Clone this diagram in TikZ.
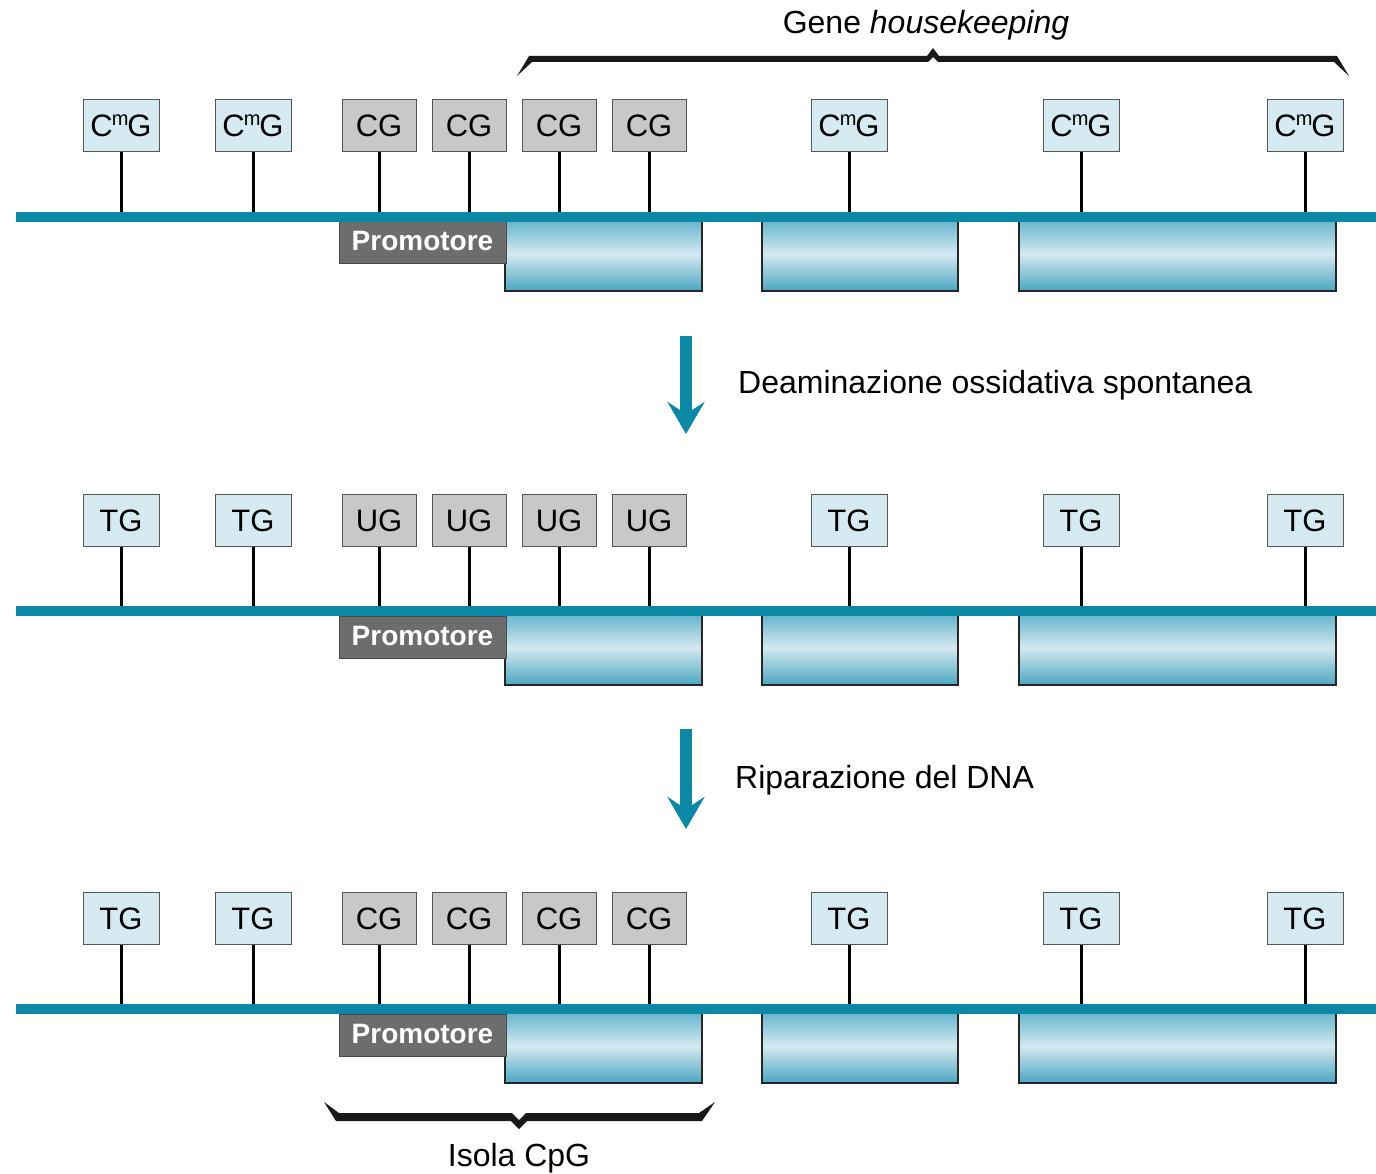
\documentclass[tikz,border=0pt]{standalone}
\usepackage{fontspec}
\setmainfont{Liberation Sans}
\usetikzlibrary{arrows.meta}
\definecolor{dnablue}{HTML}{0A88A6}
\definecolor{boxblue}{HTML}{D5EAF1}
\definecolor{boxgrey}{HTML}{C8C8C8}
\definecolor{boxline}{HTML}{555555}
\definecolor{promogrey}{HTML}{6D6D6D}
\definecolor{promoline}{HTML}{4A4A4A}
\definecolor{exonA}{HTML}{5AB0C9}
\definecolor{exonM}{HTML}{D3E9F0}
\definecolor{exonB}{HTML}{4BA6C1}
\tikzset{
 lbox/.style={draw=boxline, line width=1pt, fill=boxblue, minimum width=76pt, minimum height=52pt,
   inner sep=0pt, text height=22pt, text depth=0pt, font=\fontsize{31}{36}\selectfont},
 gbox/.style={lbox, fill=boxgrey, minimum width=74pt},
 stem/.style={line width=3pt, black},
 dna/.style={line width=10pt, dnablue},
 exon/.style={minimum height=74pt, inner sep=0pt, top color=exonA, bottom color=exonB, middle color=exonM},
 exonedge/.style={line width=2.5pt, black!85},
 promo/.style={draw=promoline, fill=promogrey, line width=1pt, minimum width=167pt, minimum height=42pt,
   inner sep=0pt, text=white, text height=20pt, text depth=4pt, font=\fontsize{28}{30}\selectfont\bfseries},
 flow/.style={line width=12pt, dnablue, -{Stealth[length=32pt,width=37pt,inset=12pt]}},
 lab/.style={font=\fontsize{32}{38}\selectfont, anchor=base west, inner sep=0pt},
 clab/.style={font=\fontsize{32}{38}\selectfont, anchor=base, inner sep=0pt},
 brace/.style={fill=black!90}
}
\newcommand\cmg{C\kern-1pt\raisebox{11pt}{\fontsize{20}{20}\selectfont m}\kern-1pt G}
\newcommand\dnarow[4]{%
 \begin{scope}[yshift=-#2pt]
  \coordinate (dnaL#1) at (16,217);
  \coordinate (dnaR#1) at (1376,217);
  \foreach \i/\x in {1/121,2/253,3/849,4/1081,5/1305} {
    \node[lbox] (o#1-\i) at (\x,126) {#3};
    \coordinate (os#1-\i) at (\x,214);
    \draw[stem] (o#1-\i) -- (os#1-\i);
  }
  \foreach \i/\x in {1/379,2/469,3/559,4/649} {
    \node[gbox] (g#1-\i) at (\x,126) {#4};
    \coordinate (gs#1-\i) at (\x,214);
    \draw[stem] (g#1-\i) -- (gs#1-\i);
  }
  \foreach \i/\x/\w in {1/603.5/197,2/860/196,3/1177.5/317} {
    \node[exon, minimum width=\w pt] (e#1-\i) at (\x,254) {};
    \draw[exonedge] (e#1-\i.north west) |- (e#1-\i.south east) -- (e#1-\i.north east);
  }
  \node[promo] (p#1) at (422.5,243) {Promotore};
  \draw[dna] (dnaL#1) -- (dnaR#1);
 \end{scope}}
\begin{document}
\begin{tikzpicture}[x=1pt,y=-1pt]
\useasboundingbox[fill=white] (0,0) rectangle (1376,1174);
\dnarow{1}{0}{\cmg}{CG}
\dnarow{2}{394}{TG}{UG}
\dnarow{3}{792}{TG}{CG}
% arrows
\coordinate (a1s) at (686,336);
\coordinate (a1e) at (686,434);
\draw[flow] (a1s) -- (a1e);
\node[lab] (t1) at (738,393) {Deaminazione ossidativa spontanea};
\coordinate (a2s) at (686,729);
\coordinate (a2e) at (686,829);
\draw[flow] (a2s) -- (a2e);
\node[lab] (t2) at (735,788) {Riparazione del DNA};
% top brace
\fill[brace] (517,76) -- (529,56) -- (927,56) -- (933,48) -- (939,56) -- (1337,56) -- (1349,76)
  -- (1334,62) -- (938,62) -- (933,57) -- (928,62) -- (532,62) -- cycle;
\node[clab] (gene) at (926,34) {Gene \textit{housekeeping}};
% bottom brace
\fill[brace] (324,1102) -- (339,1113) -- (512,1113) -- (519,1120) -- (526,1113) -- (699,1113) -- (715,1102)
  -- (702,1121) -- (527,1121) -- (519,1129) -- (511,1121) -- (336,1121) -- cycle;
\node[clab] (isola) at (519,1166) {Isola CpG};
\end{tikzpicture}
\end{document}
